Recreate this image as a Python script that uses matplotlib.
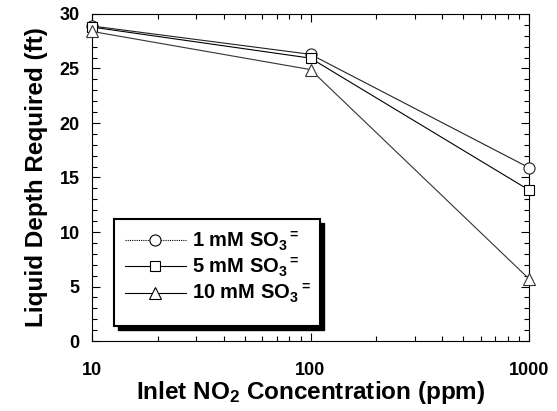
"""Liquid depth required vs inlet NO2 concentration"""
import numpy as np
import matplotlib
matplotlib.use("Agg")
from matplotlib import pyplot as plt
from matplotlib.lines import Line2D
from matplotlib.patches import Rectangle
from matplotlib.ticker import MultipleLocator, LogLocator, NullFormatter, FixedLocator

# data
conc = [10, 100, 1000]
depth_1mM = [28.9, 26.3, 15.9]
depth_5mM = [28.8, 25.95, 13.85]
depth_10mM = [28.4, 24.9, 5.7]

labels = [r"1 mM SO$_\mathbf{3}{}^{\mathbf{=}}$",
          r"5 mM SO$_\mathbf{3}{}^{\mathbf{=}}$",
          r"10 mM SO$_\mathbf{3}{}^{\mathbf{=}}$"]
xticks = [10, 100, 1000]
xticklabels = ["10", "100", "1000"]

plt.rcParams["font.family"] = "Liberation Sans"
plt.rcParams["font.weight"] = "bold"
plt.rcParams["mathtext.fontset"] = "custom"
plt.rcParams["mathtext.rm"] = "Liberation Sans:bold"
plt.rcParams["mathtext.bf"] = "Liberation Sans:bold"
plt.rcParams["mathtext.default"] = "bf"

fig = plt.figure(figsize=(5.57, 4.11), dpi=100)
ax = fig.add_axes([92 / 557, 70 / 411, 437 / 557, 327 / 411])

ax.set_xscale("log")
ax.set_xlim(10, 1000)
ax.set_ylim(0, 30)

lw = 0.8
ms = 8
ax.plot(conc, depth_1mM, color="#222222", lw=lw, marker="o", ms=ms,
        mfc="white", mec="#222222", mew=0.8, zorder=3, clip_on=False)
ax.plot(conc, depth_5mM, color="black", lw=lw, marker="s", ms=ms - 0.5,
        mfc="white", mec="black", mew=0.8, zorder=3, clip_on=False)
ax.plot(conc, depth_10mM, color="#333333", lw=lw, marker="^", ms=ms,
        mfc="white", mec="#333333", mew=0.8, zorder=3, clip_on=False)

ax.xaxis.set_major_locator(FixedLocator(xticks))
ax.set_xticklabels(xticklabels)
ax.xaxis.set_minor_locator(LogLocator(base=10, subs=np.arange(2, 10)))
ax.xaxis.set_minor_formatter(NullFormatter())
ax.yaxis.set_major_locator(MultipleLocator(5))
ax.yaxis.set_minor_locator(MultipleLocator(1))

ax.tick_params(which="both", direction="in", top=True, right=True,
               width=0.8, labelsize=13)
ax.tick_params(which="major", length=6)
ax.tick_params(which="minor", length=3.5)
ax.tick_params(axis="x", which="major", pad=15)
ax.tick_params(axis="y", which="major", pad=9)
for s in ax.spines.values():
    s.set_linewidth(0.8)

ax.set_xlabel(r"Inlet NO$_\mathbf{2}$ Concentration (ppm)", fontsize=17.5,
              fontweight="bold", labelpad=0)
ax.set_ylabel("Liquid Depth Required (ft)", fontsize=17.5, fontweight="bold",
              labelpad=8)

# legend frame with heavy drop shadow
x0, x1 = 22 / 437, 228 / 437
y0, y1 = 15 / 327, 122 / 327
sx, sy = 4 / 437, 4 / 327
ax.add_patch(Rectangle((x0 + sx, y0 - sy), x1 - x0, y1 - y0,
                       transform=ax.transAxes, facecolor="black",
                       edgecolor="black", zorder=4))
ax.add_patch(Rectangle((x0, y0), x1 - x0, y1 - y0, transform=ax.transAxes,
                       facecolor="white", edgecolor="black", lw=1.5, zorder=5))

handles = [
    Line2D([], [], color="black", lw=0.8, ls=(0, (1, 1)), marker="o", ms=ms,
           mfc="white", mec="black", mew=0.8),
    Line2D([], [], color="black", lw=0.8, marker="s", ms=ms - 0.5,
           mfc="white", mec="black", mew=0.8),
    Line2D([], [], color="black", lw=0.8, marker="^", ms=ms,
           mfc="white", mec="black", mew=0.8),
]
leg = ax.legend(handles, labels, loc="upper left",
                bbox_to_anchor=(x0 - 0.002, y1 + 0.005), frameon=False,
                fontsize=14.5, handlelength=3.0, handletextpad=0.3,
                labelspacing=0.15, borderaxespad=0.2)
leg.set_zorder(6)

fig.savefig("out.png", dpi=100)
